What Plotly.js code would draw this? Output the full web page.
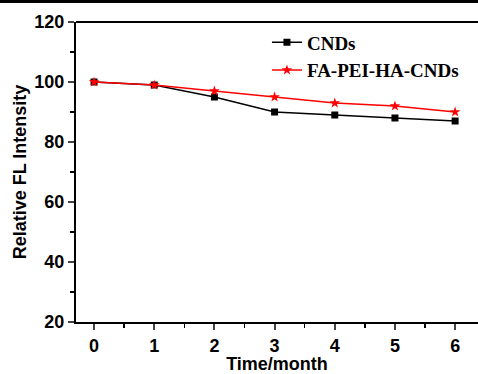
<!DOCTYPE html>
<html><head><meta charset="utf-8">
<script src="https://cdn.plot.ly/plotly-3.0.1.min.js"></script>
<style>body{margin:0;background:#fff}#c{width:478px;height:374px}</style>
</head><body><div id="c"></div>
<script>
const months = [0,1,2,3,4,5,6];
const cnds = [100,99,95,90,89,88,87];
const faPeiHaCnds = [100,99,97,95,93,92,90];
const names = ['CNDs','FA-PEI-HA-CNDs'];

const traces = [
 {x:months,y:cnds,name:names[0],mode:'lines+markers',line:{color:'#000',width:1.5},marker:{symbol:'square',size:7,color:'#000'}},
 {x:months,y:faPeiHaCnds,name:names[1],mode:'lines+markers',line:{color:'#ff0000',width:1.5},marker:{symbol:'star',size:8,color:'#ff0000'}}
];
const tf = {family:'Liberation Sans, Arial, sans-serif',size:18,color:'#000',weight:'bold'};
const layout = {
 width:478,height:374,margin:{l:76,r:0,t:22,b:52},
 paper_bgcolor:'#fff',plot_bgcolor:'#fff',showlegend:true,
 xaxis:{range:[-0.3,6.38],tickvals:months,ticks:'outside',ticklen:6,tickwidth:2,showline:true,linewidth:2,linecolor:'#000',showgrid:false,zeroline:false,
   minor:{dtick:0.5,tick0:0,ticks:'outside',ticklen:4,tickwidth:1.5,tickcolor:'#000'},
   tickfont:tf,title:{text:'Time/month',font:{family:'Liberation Sans, Arial, sans-serif',size:18,color:'#000',weight:'bold'},standoff:4}},
 yaxis:{range:[20,120],dtick:20,ticks:'outside',ticklen:6,tickwidth:2,showline:true,linewidth:2,linecolor:'#000',showgrid:false,zeroline:false,
   minor:{dtick:10,ticks:'outside',ticklen:4,tickwidth:1.5,tickcolor:'#000'},
   tickfont:tf,title:{text:'Relative FL Intensity',font:{family:'Liberation Sans, Arial, sans-serif',size:18,color:'#000',weight:'bold'},standoff:3}},
 legend:{x:0.475,y:0.995,xanchor:'left',yanchor:'top',bgcolor:'rgba(0,0,0,0)',font:{family:'Liberation Serif, Times New Roman, serif',size:19,color:'#000',weight:'bold'},tracegroupgap:0,itemwidth:30},
 shapes:[
  {type:'line',xref:'paper',yref:'paper',x0:0,x1:1,y0:1,y1:1,line:{color:'#000',width:2}},
  {type:'rect',xref:'paper',yref:'paper',x0:-0.3,x1:1.1,y0:1.0633,y1:1.08,fillcolor:'#000',line:{width:0}}
 ]
};
Plotly.newPlot('c',traces,layout,{displayModeBar:false,staticPlot:true});
</script></body></html>
